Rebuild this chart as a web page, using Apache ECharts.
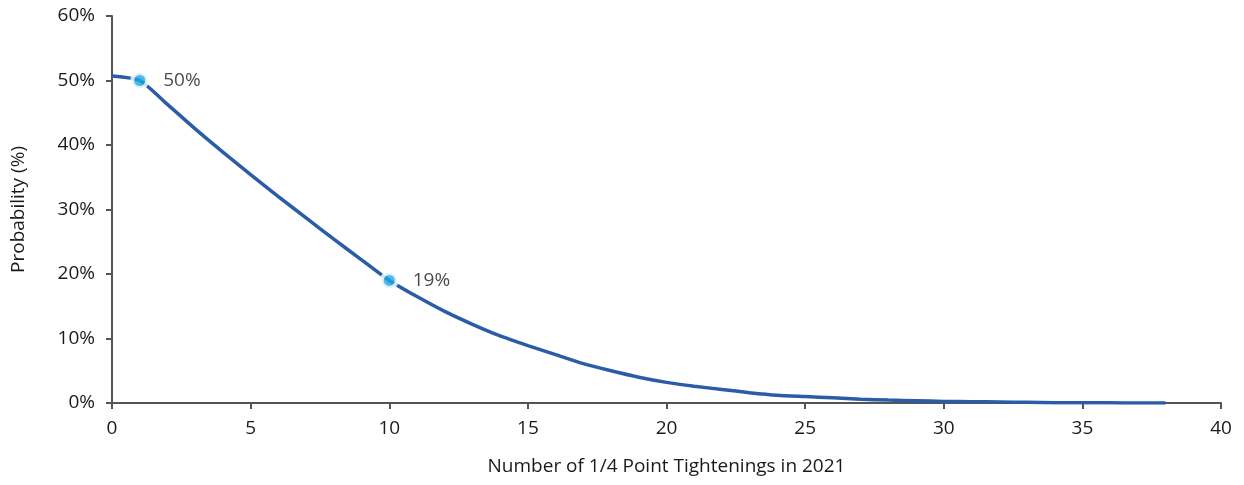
<!DOCTYPE html>
<html>
<head>
<meta charset="utf-8">
<style>
  html, body { margin: 0; padding: 0; background: #fff; }
  #chart { width: 1244px; height: 485px; }
</style>
<script src="https://cdn.jsdelivr.net/npm/echarts@6/dist/echarts.min.js"></script>
</head>
<body>
<div id="chart"></div>
<script>
// Number of quarter-point tightenings and the probability of at least that many
const tightenings = [0,1,2,3,4,5,6,7,8,9,10,11,12,13,14,15,16,17,18,19,20,21,22,23,24,25,26,27,28,29,30,31,32,33,34,35,36,37,38];
const probability = [50.7,50,46.3,42.5,38.9,35.4,32,28.7,25.4,22.2,19,16.5,14.2,12.2,10.4,8.9,7.5,6.1,5.0,4.0,3.2,2.6,2.1,1.6,1.2,1.0,0.8,0.6,0.45,0.35,0.25,0.2,0.15,0.1,0.05,0.03,0.02,0.01,0];
// Highlighted points with their labels
const highlightX = [1, 10];
const highlightY = [50, 19];
const xTicks = { min: 0, max: 40, interval: 5 };
const yTicks = { min: 0, max: 60, interval: 10 };

const font = '"Open Sans", "Noto Sans", sans-serif';
const textColor = '#1a1a1a';
const chart = echarts.init(document.getElementById('chart'), null, { renderer: 'canvas' });

chart.setOption({
  animation: false,
  grid: { left: 112, right: 23, top: 16, bottom: 82 },
  xAxis: {
    type: 'value',
    min: xTicks.min, max: xTicks.max, interval: xTicks.interval,
    name: 'Number of 1/4 Point Tightenings in 2021',
    nameLocation: 'middle', nameGap: 54,
    nameTextStyle: { fontFamily: font, fontSize: 19, color: textColor },
    axisLine: { lineStyle: { color: '#555', width: 2 } },
    axisTick: { show: true, length: 6, lineStyle: { color: '#555', width: 2 } },
    axisLabel: { fontFamily: font, fontSize: 19, color: textColor, margin: 16 },
    splitLine: { show: false }
  },
  yAxis: {
    type: 'value',
    min: yTicks.min, max: yTicks.max, interval: yTicks.interval,
    name: 'Probability (%)',
    nameLocation: 'middle', nameGap: 84, nameRotate: 90,
    nameTextStyle: { fontFamily: font, fontSize: 19, color: textColor },
    axisLine: { show: true, lineStyle: { color: '#555', width: 2 } },
    axisTick: { show: true, length: 6, lineStyle: { color: '#555', width: 2 } },
    axisLabel: { fontFamily: font, fontSize: 19, color: textColor, margin: 17, formatter: '{value}%' },
    splitLine: { show: false }
  },
  series: [
    {
      type: 'line',
      data: tightenings.map((x, i) => [x, probability[i]]),
      smooth: 0.2,
      showSymbol: false,
      lineStyle: { color: '#2b5ca8', width: 3.5 },
      z: 2
    },
    {
      type: 'scatter',
      data: highlightX.map((x, i) => [x, highlightY[i]]),
      symbol: 'circle',
      symbolSize: 15,
      itemStyle: { color: '#1ea8e0', borderColor: '#fff', borderWidth: 4 },
      emphasis: { disabled: true },
      label: {
        show: true, position: 'right', distance: 14,
        fontFamily: font, fontSize: 19, color: textColor,
        formatter: p => p.value[1] + '%'
      },
      z: 3
    }
  ]
});
</script>
</body>
</html>
